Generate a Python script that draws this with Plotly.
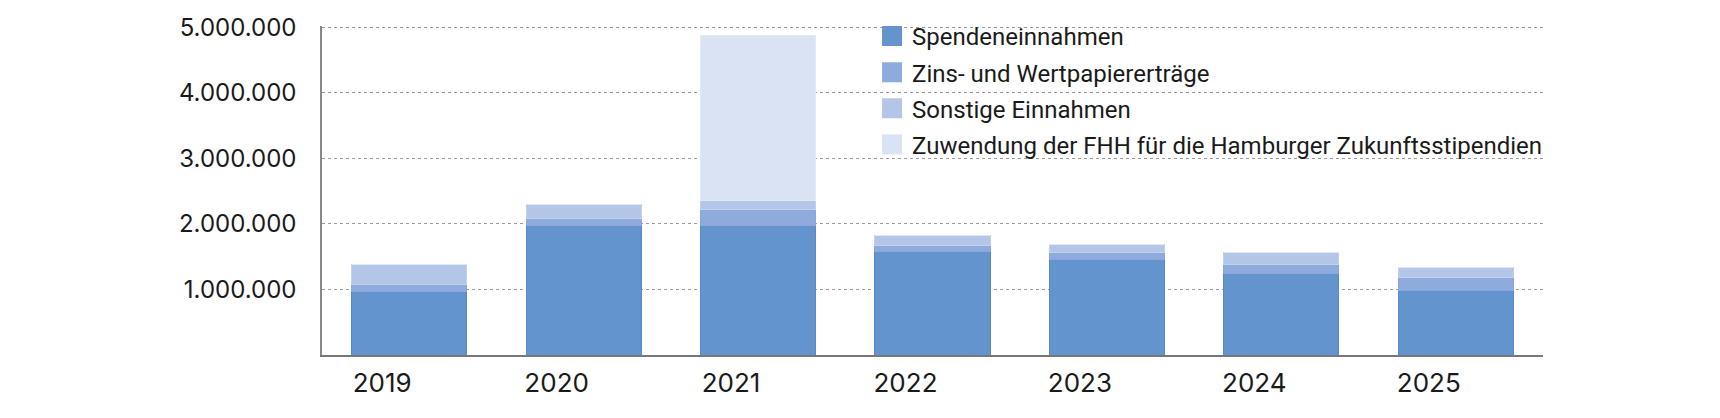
import plotly.graph_objects as go

# values (EUR)
years = ["2019", "2020", "2021", "2022", "2023", "2024", "2025"]
spenden = [970000, 1980000, 1980000, 1580000, 1460000, 1250000, 990000]
zinsen = [105000, 110000, 240000, 90000, 100000, 130000, 200000]
sonstige = [305000, 200000, 140000, 150000, 130000, 190000, 150000]
fhh = [0, 0, 2510000, 0, 0, 0, 0]

y_ticks = [1000000, 2000000, 3000000, 4000000, 5000000]

series = [
    ("Spendeneinnahmen", spenden, "#6394CD", "#5689C6"),
    ("Zins- und Wertpapiererträge", zinsen, "#8FAADC", "#8AA6DA"),
    ("Sonstige Einnahmen", sonstige, "#B4C6E8", "#C2D1EC"),
    ("Zuwendung der FHH für die Hamburger Zukunftsstipendien", fhh, "#DAE3F4", "#E2E9F6"),
]

TEXT_FONT = "Roboto"
TICK_FONT = "Inter"

fig = go.Figure()
for name, vals, color, edge in series:
    fig.add_trace(go.Bar(
        x=years, y=vals, name=name, legendgroup=name, showlegend=False,
        marker=dict(color=color, line=dict(color=edge, width=1)),
        hoverinfo="x+y+name",
    ))
    # legend entry only: bigger square swatch than the default bar symbol
    fig.add_trace(go.Scatter(
        x=[None], y=[None], mode="markers", name=name, legendgroup=name,
        marker=dict(symbol="square", size=16, color=color, line=dict(color=color, width=4)),
    ))

# the page body adds an 8px margin, so the figure is a bit smaller than the window
fig.update_layout(
    width=1704, height=402,
    barmode="stack", bargap=0.34,
    separators=",.",
    plot_bgcolor="white", paper_bgcolor="white",
    margin=dict(l=314, r=169, t=18, b=55, autoexpand=False),
    font=dict(family=TEXT_FONT, size=24, color="#1a1a1a"),
    legend=dict(
        x=0.4505, y=1.037, xanchor="left", yanchor="top",
        traceorder="grouped", tracegroupgap=2, itemsizing="trace",
        font=dict(family=TEXT_FONT, size=24, color="#1a1a1a"),
        bgcolor="rgba(0,0,0,0)",
    ),
    hovermode="closest",
)

fig.update_xaxes(
    type="category", range=[-0.5, 6.5],
    showline=True, linecolor="#777777", linewidth=2,
    ticks="", showgrid=False,
    tickfont=dict(family=TICK_FONT, size=26, color="#1a1a1a"),
    ticklabelshift=-27, ticklabelstandoff=4,
)
fig.update_yaxes(
    range=[0, 5020000], tickvals=y_ticks, tickformat=",d",
    showgrid=True, gridcolor="#9a9a9a", gridwidth=1, griddash="dot",
    showline=True, linecolor="#888888", linewidth=1.5,
    zeroline=False, ticks="",
    tickfont=dict(family=TICK_FONT, size=24, color="#1a1a1a"),
    ticklabelstandoff=19,
)

fig.write_html("out.html")
